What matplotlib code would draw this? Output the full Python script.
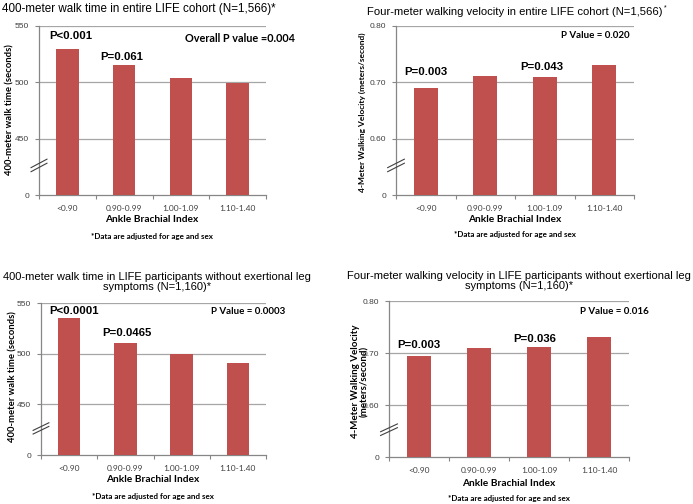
import numpy as np
import matplotlib
matplotlib.use("Agg")
from matplotlib import pyplot as plt

W, H = 693, 504

categories = ["<0.90", "0.90-0.99", "1.00-1.09", "1.10-1.40"]

walk_all = [530, 515, 504, 499]
speed_all = [0.690, 0.712, 0.709, 0.730]
walk_nosym = [535.5, 510.5, 499.3, 491]
speed_nosym = [0.694, 0.710, 0.712, 0.730]

walk_ticks = [0, 450, 500, 550]
walk_ticklabels = ["0", "450", "500", "550"]
speed_ticks = [0, 0.60, 0.70, 0.80]
speed_ticklabels = ["0", "0.60", "0.70", "0.80"]

BAR = "#C0504D"
GRID = "#A6A6A6"
AXIS = "#868686"
SANS = ["Liberation Sans", "DejaVu Sans"]
CAL = ["Lato", "DejaVu Sans"]


def px(x, y):
    return x / W, 1 - y / H


def broken_scale(first, step):
    # 0 at bottom, then the first gridline one step up, then linear
    def fwd(v):
        v = np.asarray(v, dtype=float)
        return np.where(v < first, v / first, 1 + (v - first) / step)

    def inv(p):
        p = np.asarray(p, dtype=float)
        return np.where(p < 1, p * first, first + (p - 1) * step)
    return fwd, inv


def panel(fig, rect, values, ticks, ticklabels):
    left, top, right, bottom = rect
    ax = fig.add_axes([left / W, 1 - bottom / H, (right - left) / W, (bottom - top) / H])
    ax.set_yscale("function", functions=broken_scale(ticks[1], ticks[2] - ticks[1]))
    x = np.arange(len(categories))
    ax.bar(x, values, width=0.4, color=BAR, zorder=3)
    ax.set_xlim(-0.5, len(categories) - 0.5)
    ax.set_ylim(0, ticks[-1])
    ax.set_yticks(ticks)
    ax.set_yticklabels(ticklabels, fontsize=6, family=SANS, color="#404040")
    ax.set_xticks(x)
    ax.set_xticklabels(categories, fontsize=6, family=CAL, color="#404040")
    ax.set_xticks(np.arange(len(categories) + 1) - 0.5, minor=True)
    ax.tick_params(axis="x", which="major", length=0, pad=7)
    ax.tick_params(axis="x", which="minor", length=3, color=AXIS, width=0.8)
    ax.tick_params(axis="y", length=3, color=AXIS, width=0.8, pad=4)
    for t in ticks[1:]:
        ax.axhline(t, color=GRID, lw=0.9, zorder=1)
    for s in ["top", "right"]:
        ax.spines[s].set_visible(False)
    for s in ["left", "bottom"]:
        ax.spines[s].set_color(AXIS)
        ax.spines[s].set_linewidth(0.9)
    # axis break marks
    for dy in (-0.012, 0.012):
        ax.plot([-0.035, 0.035], [0.175 + dy - 0.025, 0.175 + dy + 0.025],
                transform=ax.transAxes, color="#404040", lw=0.8, clip_on=False, zorder=5)
    return ax


fig = plt.figure(figsize=(W / 100, H / 100), dpi=100)

panel(fig, (39, 26, 266, 195), walk_all, walk_ticks, walk_ticklabels)
panel(fig, (396, 26, 634, 195), speed_all, speed_ticks, speed_ticklabels)
panel(fig, (41, 303, 266, 455), walk_nosym, walk_ticks, walk_ticklabels)
panel(fig, (389, 301, 629, 457), speed_nosym, speed_ticks, speed_ticklabels)

# y labels
ylab = dict(family=CAL, fontweight="bold", rotation=90, va="center", ha="center")
fig.text(*px(10, 110), "400-meter walk time (seconds)", fontsize=6.8, **ylab)
fig.text(*px(362, 112), "4-Meter Walking Velocity (meters/second)", fontsize=6, **ylab)
fig.text(*px(13, 377), "400-meter walk time (seconds)", fontsize=6.8, **ylab)
fig.text(*px(360, 381), "4-Meter Walking Velocity\n(meters/second)", fontsize=7,
         linespacing=1.0, **ylab)

# titles
fig.text(*px(2, 9), "400-meter walk time in entire LIFE cohort (N=1,566)*",
         fontsize=8.4, family=SANS, va="center", ha="left")
fig.text(*px(367, 12), "Four-meter walking velocity in entire LIFE cohort (N=1,566)",
         fontsize=8.1, family=SANS, va="center", ha="left")
fig.text(*px(664, 8), "*", fontsize=5, family=SANS, va="center", ha="left")
fig.text(*px(157, 282), "400-meter walk time in LIFE participants without exertional leg\nsymptoms (N=1,160)*",
         fontsize=8, family=SANS, va="center", ha="center", linespacing=1.05)
fig.text(*px(519, 281), "Four-meter walking velocity in LIFE participants without exertional leg\nsymptoms (N=1,160)*",
         fontsize=8, family=SANS, va="center", ha="center", linespacing=1.05)

# p-values
big = dict(fontsize=8.2, family=SANS, fontweight="bold", va="center", ha="center")
small = dict(fontsize=7, family=CAL, fontweight="bold", va="center", ha="center")
fig.text(*px(71, 36), "P<0.001", **big)
fig.text(*px(122, 57), "P=0.061", **big)
fig.text(*px(240, 38), "Overall P value =0.004", fontsize=7.8, family=CAL,
         fontweight="bold", va="center", ha="center")
fig.text(*px(595, 36), "P Value = 0.020", **small)
fig.text(*px(426, 72), "P=0.003", **big)
fig.text(*px(542, 67), "P=0.043", **big)
fig.text(*px(74, 311), "P<0.0001", **big)
fig.text(*px(127, 333), "P=0.0465", **big)
fig.text(*px(248, 312), "P Value = 0.0003", **small)
fig.text(*px(614, 311), "P Value = 0.016", **small)
fig.text(*px(419, 345), "P=0.003", **big)
fig.text(*px(535, 339), "P=0.036", **big)

# x labels and footnotes
lab = dict(fontsize=7.3, family=CAL, fontweight="bold", va="center", ha="center")
note = dict(fontsize=5.8, family=CAL, fontweight="bold", va="center", ha="center")
for cx, ly, ny in [(152, 220, 237), (515, 219, 235), (153, 480, 497), (509, 483, 499)]:
    fig.text(*px(cx, ly), "Ankle Brachial Index", **lab)
    fig.text(*px(cx, ny), "*Data are adjusted for age and sex", **note)

fig.savefig("out.png", dpi=100)
